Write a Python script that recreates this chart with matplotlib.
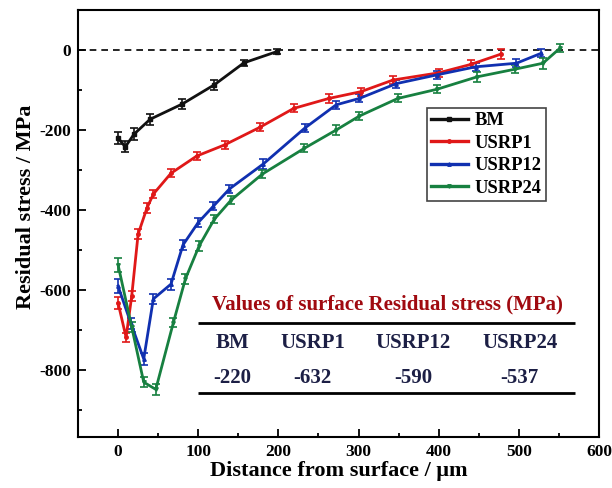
import matplotlib
matplotlib.use("Agg")
import matplotlib.pyplot as plt
from matplotlib.ticker import MultipleLocator
from matplotlib.lines import Line2D

plt.rcParams['font.family'] = ['Liberation Serif', 'DejaVu Serif']
plt.rcParams['font.weight'] = 'bold'
plt.rcParams['axes.unicode_minus'] = False

# ---- data ----
bm_x = [0, 9, 20, 40, 80, 120, 157, 198]
bm_y = [-220, -242, -210, -173, -135, -87, -32, -4]
bm_err = [14, 14, 16, 14, 12, 12, 8, 6]

u1_x = [0, 10, 17, 25, 36, 44, 66, 98, 133, 177, 219, 263, 303, 343, 400, 440, 478]
u1_y = [-632, -718, -615, -460, -395, -360, -308, -265, -237, -193, -146, -121, -104, -75, -57, -36, -10]
u1_err = [14, 12, 12, 12, 12, 10, 10, 10, 10, 10, 10, 12, 10, 10, 10, 10, 12]

u12_x = [0, 16, 32, 44, 66, 81, 100, 119, 139, 181, 233, 272, 301, 347, 398, 446, 497, 528]
u12_y = [-590, -683, -772, -622, -585, -487, -431, -390, -347, -285, -195, -137, -121, -84, -62, -42, -33, -8]
u12_err = [18, 14, 14, 12, 14, 12, 12, 10, 10, 12, 10, 10, 10, 10, 10, 10, 10, 10]

u24_x = [0, 17, 32, 47, 69, 84, 101, 120, 141, 180, 232, 272, 301, 349, 398, 448, 495, 530, 551]
u24_y = [-537, -692, -830, -848, -681, -572, -490, -423, -375, -310, -246, -200, -165, -121, -98, -67, -48, -33, 4]
u24_err = [18, 12, 12, 14, 12, 12, 12, 10, 10, 10, 10, 12, 10, 10, 10, 12, 10, 14, 10]

series_names = ['BM', 'USRP1', 'USRP12', 'USRP24']
surface_vals = ['-220', '-632', '-590', '-537']

colors = ['#111111', '#e01818', '#1030b0', '#178040']
markers = ['s', 'o', '^', 'v']

fig = plt.figure(figsize=(6.12, 4.88), dpi=100)
ax = fig.add_axes([78 / 612, 1 - 437 / 488, 521 / 612, 427 / 488])

data = [(bm_x, bm_y, bm_err), (u1_x, u1_y, u1_err), (u12_x, u12_y, u12_err), (u24_x, u24_y, u24_err)]
handles = []
for (x, y, e), c, m, name in zip(data, colors, markers, series_names):
    ax.errorbar(x, y, yerr=e, color=c, marker=m, markersize=2.5, lw=2.0,
                elinewidth=1.2, capsize=3, capthick=1.2)
    handles.append(Line2D([], [], color=c, lw=2.4, marker=m, markersize=2.5, label=name))

ax.axhline(0, color='black', lw=1.2, ls=(0, (4, 3)), zorder=0)

ax.set_xlim(-50, 600)
ax.set_ylim(-967, 100)
ax.xaxis.set_major_locator(MultipleLocator(100))
ax.xaxis.set_minor_locator(MultipleLocator(50))
ax.yaxis.set_major_locator(MultipleLocator(200))
ax.yaxis.set_minor_locator(MultipleLocator(100))
ax.tick_params(which='both', direction='in', top=False, right=False, width=1.3)
ax.tick_params(which='major', length=6, labelsize=12.5, pad=5)
ax.tick_params(which='minor', length=3)
for s in ax.spines.values():
    s.set_linewidth(1.5)

ax.set_xlabel('Distance from surface / μm', fontsize=16, fontweight='bold', labelpad=1)
ax.set_ylabel('Residual stress / MPa', fontsize=16, fontweight='bold', labelpad=2)
ax.yaxis.label.set_y(0.54)

leg = ax.legend(handles=handles, loc='upper left', bbox_to_anchor=(0.669, 0.770), fontsize=13.3,
                fancybox=False, edgecolor='#444444', framealpha=1, handlelength=2.0,
                borderpad=0.22, borderaxespad=0, labelspacing=0.3, handletextpad=0.4)
leg.get_frame().set_linewidth(1.2)

# table
ax.text(336, -637, 'Values of surface Residual stress (MPa)', color='#a00a10',
        fontsize=15, fontweight='bold', ha='center', va='center')
ax.plot([100, 570], [-682, -682], color='black', lw=2, solid_capstyle='butt')
ax.plot([100, 570], [-857, -857], color='black', lw=2, solid_capstyle='butt')
col_x = [143, 243, 368, 501]
for cx, nm, v in zip(col_x, series_names, surface_vals):
    ax.text(cx, -732, nm, color='#1c1f45', fontsize=15, fontweight='bold', ha='center', va='center')
    ax.text(cx, -820, v, color='#1c1f45', fontsize=15, fontweight='bold', ha='center', va='center')

fig.savefig('out.png', dpi=100)
